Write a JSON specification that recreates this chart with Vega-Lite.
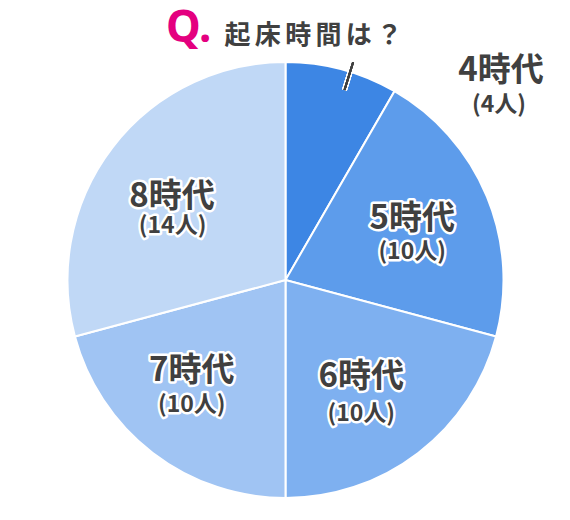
{
  "$schema": "https://vega.github.io/schema/vega-lite/v6.json",
  "width": 569,
  "height": 480,
  "autosize": "none",
  "padding": {"left": 1, "top": 40, "right": 0, "bottom": 0},
  "background": "white",
  "title": {
    "text": "Q.",
    "subtitle": "\u2060\u3000\u3000\u2005起\u2006床\u2006時\u2006間\u2006は\u2006？",
    "anchor": "start",
    "frame": "group",
    "dx": 165,
    "dy": 11,
    "offset": 0,
    "color": "#e4007f",
    "font": "Noto Sans",
    "fontSize": 44,
    "fontWeight": "bold",
    "subtitleColor": "#404040",
    "subtitleFont": "Noto Sans CJK JP",
    "subtitleFontSize": 26,
    "subtitleFontWeight": "bold",
    "subtitlePadding": -28
  },
  "config": {"view": {"stroke": null}},
  "data": {
    "values": [
      {"hour": "4時代", "count": 4, "people": "(4人)"},
      {"hour": "5時代", "count": 10, "people": "(10人)"},
      {"hour": "6時代", "count": 10, "people": "(10人)"},
      {"hour": "7時代", "count": 10, "people": "(10人)"},
      {"hour": "8時代", "count": 14, "people": "(14人)"}
    ]
  },
  "layer": [
    {
      "mark": {"type": "arc", "outerRadius": 218, "stroke": "white", "strokeWidth": 2},
      "encoding": {
        "theta": {"field": "count", "type": "quantitative", "stack": true},
        "order": {"field": "hour"},
        "color": {
          "field": "hour",
          "type": "nominal",
          "sort": null,
          "scale": {
            "domain": ["4時代", "5時代", "6時代", "7時代", "8時代"],
            "range": ["#3d86e4", "#5d9ceb", "#7eb0f0", "#a0c4f3", "#c0d8f6"]
          },
          "legend": null
        }
      }
    },
    {
      "mark": {"type": "arc", "innerRadius": 199, "outerRadius": 228, "stroke": "white", "strokeWidth": 5, "strokeCap": "round", "fill": null},
      "encoding": {
        "theta": {"datum": 2.3, "type": "quantitative"},
        "theta2": {"datum": 2.3}
      }
    },
    {
      "mark": {"type": "arc", "innerRadius": 199, "outerRadius": 228, "stroke": "#404040", "strokeWidth": 2, "fill": null},
      "encoding": {
        "theta": {"datum": 2.3, "type": "quantitative"},
        "theta2": {"datum": 2.3}
      }
    },
    {
      "encoding": {
        "theta": {"field": "count", "type": "quantitative", "stack": true},
        "order": {"field": "hour"},
        "opacity": {"condition": {"test": "datum.hour === '4時代'", "value": 1}, "value": 0}
      },
      "layer": [
        {"mark": {"type": "text", "radius": 218, "dx": 159, "dy": 2, "font": "Noto Sans CJK JP", "fontWeight": "bold", "fontSize": 33, "baseline": "middle", "align": "center", "fill": "#404040"}, "encoding": {"text": {"field": "hour"}}},
        {"mark": {"type": "text", "radius": 218, "dx": 157, "dy": 36, "font": "Noto Sans CJK JP", "fontWeight": "bold", "fontSize": 23, "baseline": "middle", "align": "center", "fill": "#404040"}, "encoding": {"text": {"field": "people"}}}
      ]
    },
    {
      "encoding": {
        "theta": {"field": "count", "type": "quantitative", "stack": true},
        "order": {"field": "hour"},
        "opacity": {"condition": {"test": "datum.hour === '5時代'", "value": 1}, "value": 0}
      },
      "layer": [
        {"mark": {"type": "text", "radius": 136, "dx": 1, "dy": -9, "font": "Noto Sans CJK JP", "fontWeight": "bold", "fontSize": 33, "baseline": "middle", "align": "center", "stroke": "white", "strokeWidth": 5, "strokeJoin": "round", "fill": "white"}, "encoding": {"text": {"field": "hour"}}},
        {"mark": {"type": "text", "radius": 136, "dx": 1, "dy": -9, "font": "Noto Sans CJK JP", "fontWeight": "bold", "fontSize": 33, "baseline": "middle", "align": "center", "fill": "#404040"}, "encoding": {"text": {"field": "hour"}}},
        {"mark": {"type": "text", "radius": 136, "dx": 1, "dy": 24, "font": "Noto Sans CJK JP", "fontWeight": "bold", "fontSize": 23, "baseline": "middle", "align": "center", "stroke": "white", "strokeWidth": 5, "strokeJoin": "round", "fill": "white"}, "encoding": {"text": {"field": "people"}}},
        {"mark": {"type": "text", "radius": 136, "dx": 1, "dy": 24, "font": "Noto Sans CJK JP", "fontWeight": "bold", "fontSize": 23, "baseline": "middle", "align": "center", "fill": "#404040"}, "encoding": {"text": {"field": "people"}}}
      ]
    },
    {
      "encoding": {
        "theta": {"field": "count", "type": "quantitative", "stack": true},
        "order": {"field": "hour"},
        "opacity": {"condition": {"test": "datum.hour === '6時代'", "value": 1}, "value": 0}
      },
      "layer": [
        {"mark": {"type": "text", "radius": 136, "dx": -7, "dy": -11, "font": "Noto Sans CJK JP", "fontWeight": "bold", "fontSize": 33, "baseline": "middle", "align": "center", "stroke": "white", "strokeWidth": 5, "strokeJoin": "round", "fill": "white"}, "encoding": {"text": {"field": "hour"}}},
        {"mark": {"type": "text", "radius": 136, "dx": -7, "dy": -11, "font": "Noto Sans CJK JP", "fontWeight": "bold", "fontSize": 33, "baseline": "middle", "align": "center", "fill": "#404040"}, "encoding": {"text": {"field": "hour"}}},
        {"mark": {"type": "text", "radius": 136, "dx": -7, "dy": 26, "font": "Noto Sans CJK JP", "fontWeight": "bold", "fontSize": 23, "baseline": "middle", "align": "center", "stroke": "white", "strokeWidth": 5, "strokeJoin": "round", "fill": "white"}, "encoding": {"text": {"field": "people"}}},
        {"mark": {"type": "text", "radius": 136, "dx": -7, "dy": 26, "font": "Noto Sans CJK JP", "fontWeight": "bold", "fontSize": 23, "baseline": "middle", "align": "center", "fill": "#404040"}, "encoding": {"text": {"field": "people"}}}
      ]
    },
    {
      "encoding": {
        "theta": {"field": "count", "type": "quantitative", "stack": true},
        "order": {"field": "hour"},
        "opacity": {"condition": {"test": "datum.hour === '7時代'", "value": 1}, "value": 0}
      },
      "layer": [
        {"mark": {"type": "text", "radius": 136, "dx": -11, "dy": -17, "font": "Noto Sans CJK JP", "fontWeight": "bold", "fontSize": 33, "baseline": "middle", "align": "center", "stroke": "white", "strokeWidth": 5, "strokeJoin": "round", "fill": "white"}, "encoding": {"text": {"field": "hour"}}},
        {"mark": {"type": "text", "radius": 136, "dx": -11, "dy": -17, "font": "Noto Sans CJK JP", "fontWeight": "bold", "fontSize": 33, "baseline": "middle", "align": "center", "fill": "#404040"}, "encoding": {"text": {"field": "hour"}}},
        {"mark": {"type": "text", "radius": 136, "dx": -11, "dy": 17, "font": "Noto Sans CJK JP", "fontWeight": "bold", "fontSize": 23, "baseline": "middle", "align": "center", "stroke": "white", "strokeWidth": 5, "strokeJoin": "round", "fill": "white"}, "encoding": {"text": {"field": "people"}}},
        {"mark": {"type": "text", "radius": 136, "dx": -11, "dy": 17, "font": "Noto Sans CJK JP", "fontWeight": "bold", "fontSize": 23, "baseline": "middle", "align": "center", "fill": "#404040"}, "encoding": {"text": {"field": "people"}}}
      ]
    },
    {
      "encoding": {
        "theta": {"field": "count", "type": "quantitative", "stack": true},
        "order": {"field": "hour"},
        "opacity": {"condition": {"test": "datum.hour === '8時代'", "value": 1}, "value": 0}
      },
      "layer": [
        {"mark": {"type": "text", "radius": 136, "dx": -5.5, "dy": 0, "font": "Noto Sans CJK JP", "fontWeight": "bold", "fontSize": 33, "baseline": "middle", "align": "center", "stroke": "white", "strokeWidth": 5, "strokeJoin": "round", "fill": "white"}, "encoding": {"text": {"field": "hour"}}},
        {"mark": {"type": "text", "radius": 136, "dx": -5.5, "dy": 0, "font": "Noto Sans CJK JP", "fontWeight": "bold", "fontSize": 33, "baseline": "middle", "align": "center", "fill": "#404040"}, "encoding": {"text": {"field": "hour"}}},
        {"mark": {"type": "text", "radius": 136, "dx": -5, "dy": 28.5, "font": "Noto Sans CJK JP", "fontWeight": "bold", "fontSize": 23, "baseline": "middle", "align": "center", "stroke": "white", "strokeWidth": 5, "strokeJoin": "round", "fill": "white"}, "encoding": {"text": {"field": "people"}}},
        {"mark": {"type": "text", "radius": 136, "dx": -5, "dy": 28.5, "font": "Noto Sans CJK JP", "fontWeight": "bold", "fontSize": 23, "baseline": "middle", "align": "center", "fill": "#404040"}, "encoding": {"text": {"field": "people"}}}
      ]
    }
  ]
}
